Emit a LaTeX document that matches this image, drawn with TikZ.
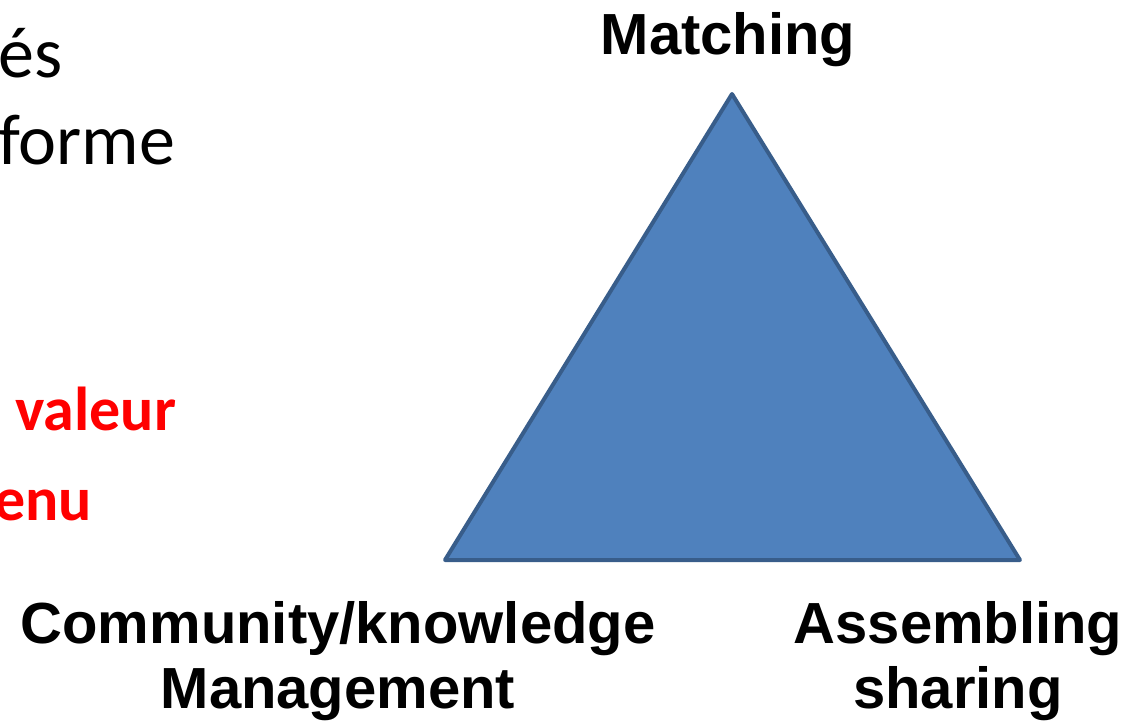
\documentclass[tikz,border=0pt]{standalone}
\usepackage{fontspec}
\setmainfont{Liberation Sans}
\newfontfamily\calibri{Carlito}
\definecolor{triblue}{HTML}{4F81BD}
\definecolor{triedge}{HTML}{385D8A}
\definecolor{keyred}{HTML}{FF0000}
\tikzset{
    corner/.style={font=\fontsize{29}{32.5}\selectfont\bfseries, align=center, inner sep=0pt, anchor=base},
    sidetext/.style={font=\fontsize{36}{43}\selectfont\calibri, inner sep=0pt, anchor=base west},
    sidekey/.style={font=\fontsize{31}{38}\selectfont\calibri\bfseries, text=keyred, inner sep=0pt, anchor=base west}
}
\begin{document}
\begin{tikzpicture}[x=0.5pt,y=-0.5pt]

        \useasboundingbox (0,0) rectangle (1142,725);

        % Cut text on the left
        \node[sidetext] (es) at (-2,77) {és};
        \node[sidetext] (forme) at (-2,164) {forme};
        \node[sidekey] (valeur) at (15,430) {valeur};
        \node[sidekey] (enu) at (-6,520) {enu};

        % Triangle corners
        \coordinate (top) at (732,94);
        \coordinate (left) at (445,560);
        \coordinate (right) at (1020,560);
        \filldraw[fill=triblue, draw=triedge, line width=2pt, line join=round] (top) -- (right) -- (left) -- cycle;

        % Labels at the corners
        \node[corner] (match) at (728,54) {Matching};
        \node[corner] (comm) at (338,708) {Community/knowledge\\Management};
        \node[corner] (assem) at (958,708) {Assembling\\sharing};

\end{tikzpicture}
\end{document}
